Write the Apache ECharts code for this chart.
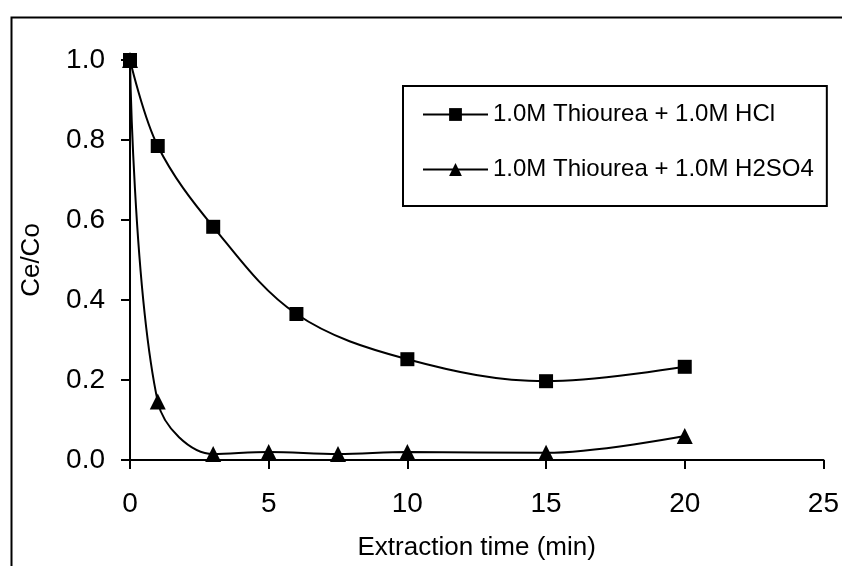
<!DOCTYPE html>
<html>
<head>
<meta charset="utf-8">
<script src="https://cdn.jsdelivr.net/npm/echarts@6/dist/echarts.min.js"></script>
<style>html,body{margin:0;padding:0;background:#fff}#c{width:842px;height:566px}</style>
</head>
<body>
<div id="c"></div>
<script>
var seriesNames = ['1.0M Thiourea + 1.0M HCl', '1.0M Thiourea + 1.0M H2SO4'];
var hclTime = [0, 1, 3, 6, 10, 15, 20];
var hclValues = [1.0, 0.785, 0.583, 0.365, 0.252, 0.197, 0.233];
var h2so4Time = [0, 1, 3, 5, 7.5, 10, 15, 20];
var h2so4Values = [1.0, 0.146, 0.015, 0.02, 0.015, 0.02, 0.018, 0.06];
var xTicks = [0, 5, 10, 15, 20, 25];
var yTicks = [0.0, 0.2, 0.4, 0.6, 0.8, 1.0];

function pairs(xs, ys) { return xs.map(function (x, i) { return [x, ys[i]]; }); }

var font = 'Liberation Sans, Arial, sans-serif';
var chart = echarts.init(document.getElementById('c'), null, { renderer: 'canvas' });
chart.setOption({
  animation: false,
  backgroundColor: '#fff',
  graphic: [{
    type: 'rect', left: 9, top: 15, silent: true,
    shape: { x: 0, y: 0, width: 900, height: 620 },
    style: { fill: 'none', stroke: '#000', lineWidth: 2 }
  }],
  grid: { left: 130, right: 15, top: 60, bottom: 106, containLabel: false },
  legend: {
    orient: 'vertical', left: 403, top: 86,
    padding: [16, 13, 24, 19],
    itemGap: 30, itemWidth: 65, itemHeight: 16,
    borderColor: '#000', borderWidth: 2,
    textStyle: { fontFamily: font, fontSize: 24, color: '#000', lineHeight: 25 },
    data: seriesNames
  },
  xAxis: {
    type: 'value', min: 0, max: 25, interval: 5,
    name: 'Extraction time (min)', nameLocation: 'middle', nameGap: 75,
    nameTextStyle: { fontFamily: font, fontSize: 26, color: '#000' },
    axisLine: { lineStyle: { color: '#000', width: 2 } },
    axisTick: { length: 9, lineStyle: { color: '#000', width: 2 } },
    axisLabel: { fontFamily: font, fontSize: 28, color: '#000', margin: 30,
      formatter: function (v) { return xTicks.indexOf(v) >= 0 ? String(v) : ''; } },
    splitLine: { show: false }
  },
  yAxis: {
    type: 'value', min: 0, max: 1, interval: 0.2,
    name: 'Ce/Co', nameLocation: 'middle', nameGap: 85, nameRotate: 90,
    nameTextStyle: { fontFamily: font, fontSize: 26, color: '#000' },
    axisLine: { show: true, lineStyle: { color: '#000', width: 2 } },
    axisTick: { show: true, length: 9, lineStyle: { color: '#000', width: 2 } },
    axisLabel: { fontFamily: font, fontSize: 28, color: '#000', margin: 25,
      formatter: function (v) { return v.toFixed(1); } },
    splitLine: { show: false }
  },
  series: [{
    name: seriesNames[0], type: 'line', smooth: 0.35,
    data: pairs(hclTime, hclValues),
    symbol: 'rect', symbolSize: 14,
    lineStyle: { color: '#000', width: 2 },
    itemStyle: { color: '#000' }
  }, {
    name: seriesNames[1], type: 'line', smooth: 0.35,
    data: pairs(h2so4Time, h2so4Values),
    symbol: 'triangle', symbolSize: 16,
    lineStyle: { color: '#000', width: 2 },
    itemStyle: { color: '#000' }
  }]
});
</script>
</body>
</html>
